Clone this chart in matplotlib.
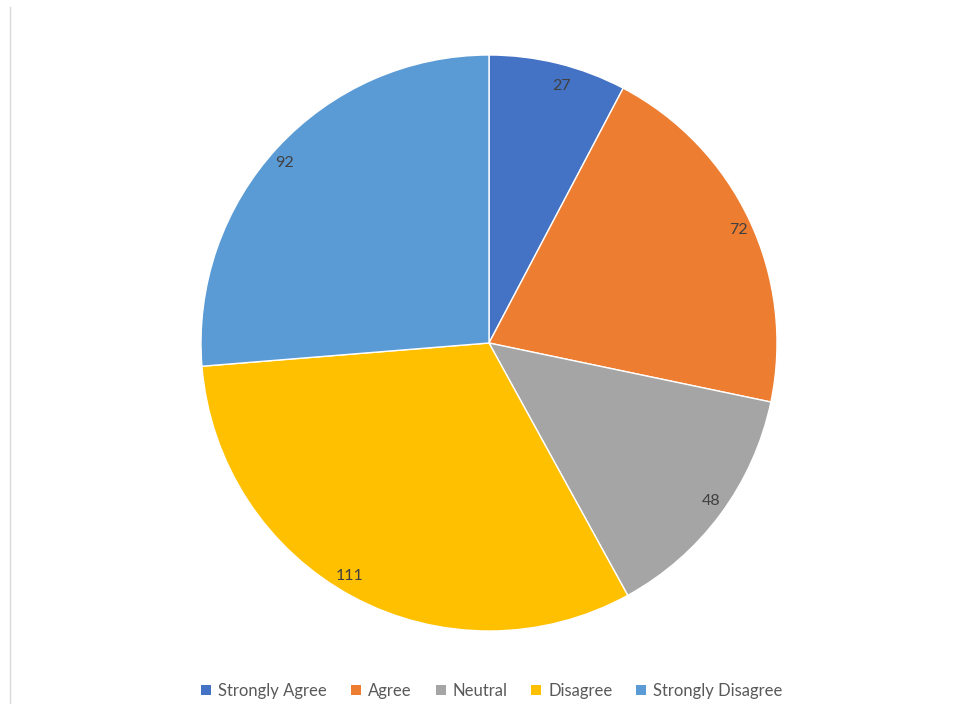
import matplotlib.pyplot as plt
from matplotlib.patches import Patch
from matplotlib.lines import Line2D

categories = ["Strongly Agree", "Agree", "Neutral", "Disagree", "Strongly Disagree"]
counts = [27, 72, 48, 111, 92]
colors = ["#4472C4", "#ED7D31", "#A5A5A5", "#FFC000", "#5B9BD5"]

plt.rcParams['font.family'] = ['Lato', 'DejaVu Sans']

fig = plt.figure(figsize=(9.54, 7.04), dpi=100)
# pie centre ~ (489,343) px, radius ~288 px
ax = fig.add_axes([201/954, 73/704, 576/954, 576/704])
wedges, texts = ax.pie(counts, colors=colors, startangle=90, counterclock=False,
                       labels=[str(c) for c in counts], labeldistance=0.92,
                       wedgeprops=dict(edgecolor="white", linewidth=1),
                       textprops=dict(color="#404040", fontsize=11.5))
ax.set_xlim(-1, 1)
ax.set_ylim(-1, 1)
ax.set_aspect("equal")
ax.axis("off")

# faint frame line on the left
fig.add_artist(Line2D([10/954, 10/954], [0, 1 - 7/704], color="#d9d9d9", lw=1))

handles = [Patch(facecolor=c, edgecolor="none") for c in colors]
fig.legend(handles, categories, loc="center", bbox_to_anchor=(492/954, 1 - 691/704),
           ncol=5, frameon=False, fontsize=12, labelcolor="#595959",
           handlelength=0.6, handleheight=0.6, handletextpad=0.4, columnspacing=1.45)

fig.savefig("out.png", dpi=100, facecolor="white")
